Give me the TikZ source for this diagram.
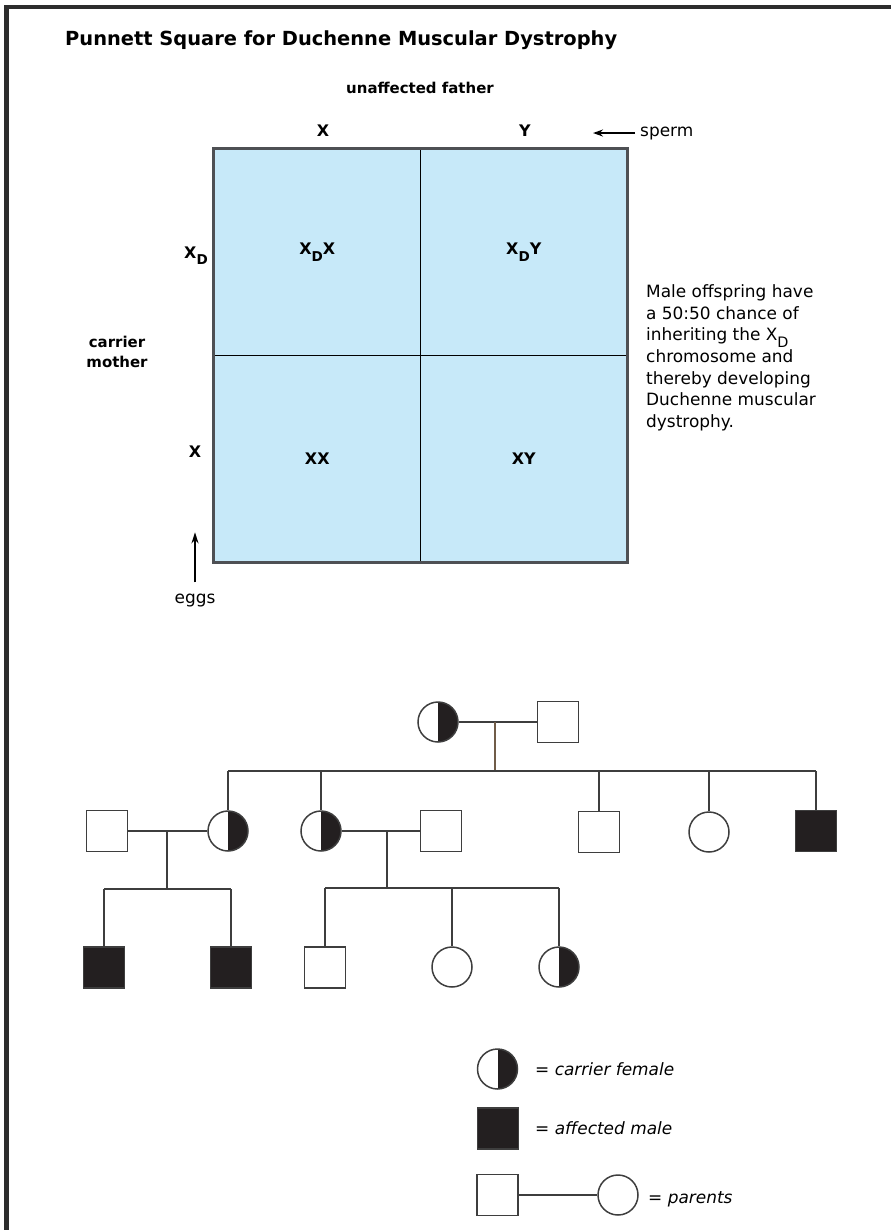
\documentclass[tikz,border=0pt]{standalone}
\usepackage{graphicx}
\usepackage{fontspec}
\setmainfont{DejaVu Sans}
\usetikzlibrary{arrows.meta,positioning,calc}
\definecolor{cellblue}{RGB}{199,233,249}
\definecolor{sqedge}{RGB}{78,80,84}
\definecolor{pedline}{RGB}{62,62,62}
\definecolor{pedfill}{RGB}{35,31,32}
\definecolor{stembrown}{RGB}{112,92,72}
\definecolor{framegray}{RGB}{45,45,45}
\newcommand\xsub[1]{\raisebox{-0.4em}{\scalebox{0.85}{#1}}}

\begin{document}
\begin{tikzpicture}[x=1bp,y=-1bp,>=Stealth,
  lbl/.style={inner sep=0,anchor=base,font=\fontsize{16}{19}\selectfont\bfseries},
  plain/.style={inner sep=0,anchor=base,font=\fontsize{17}{20}\selectfont},
  cell/.style={draw=black,line width=1.3bp,fill=cellblue,inner sep=0,
    minimum width=206.5bp,minimum height=206.5bp,
    font=\fontsize{16}{19}\selectfont\bfseries},
  ped/.style={draw=pedline,line width=1.5bp},
  male/.style={ped,rectangle,minimum size=41bp,inner sep=0},
  female/.style={ped,circle,minimum size=40bp,inner sep=0},
  affected/.style={male,fill=pedfill},
  carrier/.style={female,path picture={\fill[pedfill]
    (path picture bounding box.north) rectangle (path picture bounding box.south east);}},
  key/.style={inner sep=0,anchor=base west,font=\fontsize{17}{20}\selectfont\itshape}]
  \useasboundingbox (0,0) rectangle (891,1230);
  \draw[framegray,line width=4.5bp] (6.5,1232) -- (6.5,7) -- (893,7);

  % Punnett square
  \node[anchor=base west,inner sep=0,font=\fontsize{19.5}{23}\selectfont\bfseries] (title)
    at (65,45) {Punnett Square for Duchenne Muscular Dystrophy};
  \node[lbl,font=\fontsize{15}{18}\selectfont\bfseries] (father) at (420,93) {unaffected father};
  \node[lbl] (spx) at (323,136) {X};
  \node[lbl] (spy) at (525,136) {Y};
  \node[plain,anchor=base west] (sperm) at (640,136) {sperm};
  \coordinate (spermtip) at ($(sperm.west)+(-47,0)$);
  \draw[-{Stealth[length=10bp,width=7bp]},line width=2bp] ([xshift=-5bp]sperm.west) -- (spermtip);

  \node[cell] (c11) at (317.25,252.25) {X\xsub{D}X};
  \node[cell] (c12) at (523.75,252.25) {X\xsub{D}Y};
  \node[cell] (c21) at (317.25,458.75) {XX};
  \node[cell] (c22) at (523.75,458.75) {XY};
  \draw[sqedge,line width=2.6bp] (c11.north west) rectangle (c22.south east);

  \node[lbl] (eggxd) at (196,258) {X\xsub{D}};
  \node[lbl] (eggx) at (195,457) {X};
  \node[inner sep=0,anchor=north,align=center,font=\fontsize{15}{20}\selectfont\bfseries]
    (mother) at (117,336) {carrier\\mother};
  \node[plain] (eggs) at (195,603) {eggs};
  \coordinate (eggtip) at ($(eggs.north)+(0,-61)$);
  \draw[-{Stealth[length=11bp,width=7bp]},line width=2bp] ([yshift=11bp]eggs.north) -- (eggtip);

  \node[anchor=north west,inner sep=0,align=left,font=\fontsize{17}{21.7}\selectfont] (note)
    at (646,284.5) {Male offspring have\\a 50:50 chance of\\inheriting the X\xsub{D}\\%
    chromosome and\\thereby developing\\Duchenne muscular\\dystrophy.};

  % pedigree
  \node[carrier] (f1) at (438,722) {};
  \node[male] (m1) at (558,722) {};
  \node[male] (m2a) at (107,831) {};
  \node[carrier] (f2a) at (228,831) {};
  \node[carrier] (f2b) at (321,831) {};
  \node[male] (m2b) at (441,831) {};
  \node[male] (m2c) at (599,832) {};
  \node[female] (f2c) at (709,832) {};
  \node[affected] (a2) at (816,831) {};
  \node[affected] (a3a) at (104,967.5) {};
  \node[affected] (a3b) at (231,967.5) {};
  \node[male] (m3) at (325,967.5) {};
  \node[female] (f3) at (452,967) {};
  \node[carrier] (c3) at (559,967) {};

  \coordinate (d1) at (495,722);
  \coordinate (s1) at (495,771);
  \coordinate (d2a) at (167,831);
  \coordinate (s2) at (167,889);
  \coordinate (d2b) at (387,831);
  \coordinate (s3) at (387,888);

  \draw[ped] (f1) -- (m1);
  \draw[stembrown,line width=1.5bp] (d1) -- (s1);
  \draw[ped] (f2a |- s1) -- (a2 |- s1);
  \foreach \n in {f2a,f2b,m2c,f2c,a2}
    \draw[ped] (\n |- s1) -- (\n.north);

  \draw[ped] (m2a) -- (f2a);
  \draw[ped] (d2a) -- (s2);
  \draw[ped] (a3a |- s2) -- (a3b |- s2);
  \foreach \n in {a3a,a3b}
    \draw[ped] (\n |- s2) -- (\n.north);

  \draw[ped] (f2b) -- (m2b);
  \draw[ped] (d2b) -- (s3);
  \draw[ped] (m3 |- s3) -- (c3 |- s3);
  \foreach \n in {m3,f3,c3}
    \draw[ped] (\n |- s3) -- (\n.north);

  % key
  \node[carrier] (k1) at (497.5,1069) {};
  \node[affected] (k2) at (498,1128.5) {};
  \node[male] (k3) at (497.5,1195) {};
  \node[female] (k4) at (618,1195) {};
  \draw[ped] (k3) -- (k4);
  \node[key] (t1) at (535,1075) {= carrier female};
  \node[key] (t2) at (535,1134) {= affected male};
  \node[key] (t3) at (648,1203) {= parents};
\end{tikzpicture}
\end{document}
